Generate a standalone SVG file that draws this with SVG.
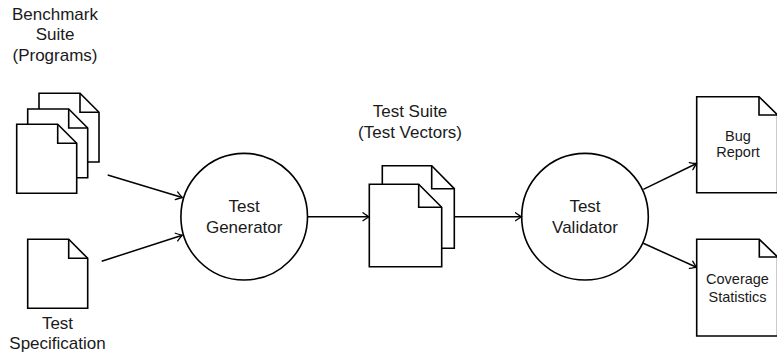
<svg xmlns="http://www.w3.org/2000/svg" width="777" height="353" viewBox="0 0 777 353">
<defs>
<style>
.doc{fill:#fff;stroke:#000;stroke-width:1.6;stroke-linejoin:miter}
.fold{fill:none;stroke:#000;stroke-width:1.6}
.circ{fill:#fff;stroke:#000;stroke-width:1.6}
.lbl{font-family:"Liberation Sans",Arial,sans-serif;font-size:17px;fill:#1a1a1a;text-anchor:middle}
.sm{font-size:14.5px}
.edge{fill:none;stroke:#000;stroke-width:1.5}
</style>
<marker id="arr" viewBox="-7 -5 8 10" markerWidth="8" markerHeight="10" refX="0" refY="0" orient="auto" markerUnits="userSpaceOnUse">
<path d="M-6,-4 Q-1.5,-0.8 0,0 Q-1.5,0.8 -6,4" fill="none" stroke="#000" stroke-width="1.3" stroke-linecap="round"/>
</marker>
</defs>
<rect width="777" height="353" fill="#fff"/>

<g id="benchmark">
<path class="doc" d="M39,93.3 H80 L99,112.3 V162 H39 Z"/><path class="fold" d="M80,93.3 V112.3 H99"/>
<path class="doc" d="M27.7,109 H68.7 L87.7,128 V177.7 H27.7 Z"/><path class="fold" d="M68.7,109 V128 H87.7"/>
<path class="doc" d="M16.7,124.3 H57.7 L76.7,143.3 V193.3 H16.7 Z"/><path class="fold" d="M57.7,124.3 V143.3 H76.7"/>
<text class="lbl" x="55" y="19.5">Benchmark</text>
<text class="lbl" x="55" y="40">Suite</text>
<text class="lbl" x="55" y="60.5">(Programs)</text>
</g>

<g id="spec">
<path class="doc" d="M27.7,239.3 H68.7 L87.7,258.3 V308.3 H27.7 Z"/><path class="fold" d="M68.7,239.3 V258.3 H87.7"/>
<text class="lbl" x="57.5" y="329">Test</text>
<text class="lbl" x="57.5" y="349">Specification</text>
</g>

<g id="generator">
<circle class="circ" cx="244.2" cy="216.7" r="63.3"/>
<text class="lbl" x="244.2" y="212">Test</text>
<text class="lbl" x="244.2" y="233.3">Generator</text>
</g>

<g id="suite">
<path class="doc" d="M382.3,165.7 H431.7 L454.3,188.7 V248.3 H382.3 Z"/><path class="fold" d="M431.7,165.7 V188.7 H454.3"/>
<path class="doc" d="M369.3,184.3 H418.7 L441.7,207.3 V266.7 H369.3 Z"/><path class="fold" d="M418.7,184.3 V207.3 H441.7"/>
<text class="lbl" x="410" y="117">Test Suite</text>
<text class="lbl" x="410" y="137.5">(Test Vectors)</text>
</g>

<g id="validator">
<circle class="circ" cx="585" cy="216.7" r="63.3"/>
<text class="lbl" x="585" y="212">Test</text>
<text class="lbl" x="585" y="233.3">Validator</text>
</g>

<g id="bug">
<path class="doc" d="M696.7,96.7 H759 L777.6,115 V192.7 H696.7 Z"/><path class="fold" d="M759,96.7 V115 H777.6"/>
<text class="lbl sm" x="738" y="140.5">Bug</text>
<text class="lbl sm" x="738" y="157">Report</text>
</g>

<g id="coverage">
<path class="doc" d="M696.7,239.3 H759.3 L777.6,257 V336 H696.7 Z"/><path class="fold" d="M759.3,239.3 V257 H777.6"/>
<text class="lbl sm" x="737.5" y="283.5">Coverage</text>
<text class="lbl sm" x="737.5" y="301.5">Statistics</text>
</g>

<g id="connectors">
<line class="edge" x1="107.7" y1="175" x2="182.2" y2="197.5" marker-end="url(#arr)"/>
<line class="edge" x1="101.7" y1="261.3" x2="182.2" y2="235.2" marker-end="url(#arr)"/>
<line class="edge" x1="307.5" y1="216.7" x2="369" y2="216.7" marker-end="url(#arr)"/>
<line class="edge" x1="454.3" y1="216.7" x2="521.5" y2="216.7" marker-end="url(#arr)"/>
<line class="edge" x1="643.3" y1="189.3" x2="696.5" y2="163.5" marker-end="url(#arr)"/>
<line class="edge" x1="643.3" y1="243.3" x2="696.5" y2="267.3" marker-end="url(#arr)"/>
</g>
</svg>
